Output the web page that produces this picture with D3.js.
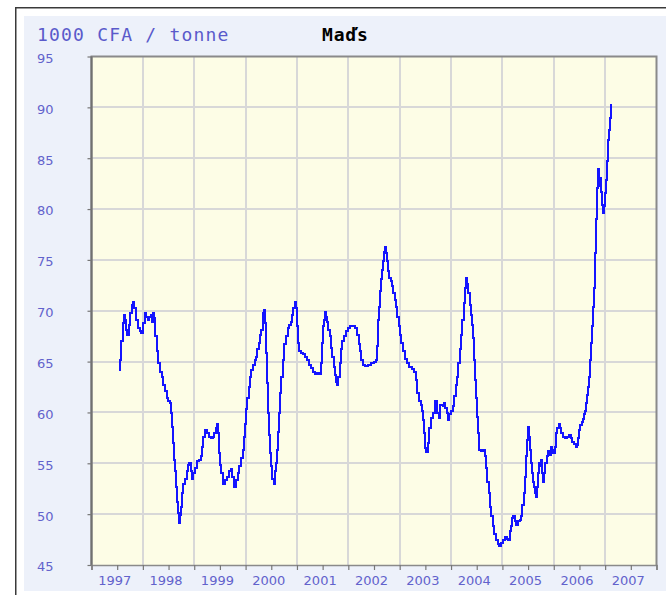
<!DOCTYPE html>
<html><head><meta charset="utf-8">
<script src="https://cdn.jsdelivr.net/npm/d3@7"></script>
<style>body{margin:0;background:#fff;} svg{display:block;}</style>
</head><body><svg id="c" width="666" height="595"></svg>
<script>
const unitTitle = "1000 CFA / tonne";
const seriesName = "Maďs";
const yTicks = [45, 50, 55, 60, 65, 70, 75, 80, 85, 90, 95];
const yearLabels = ["1997","1998","1999","2000","2001","2002","2003","2004","2005","2006","2007"];

// decimal years
const years = [
1997.545,1997.558,1997.584,1997.611,1997.623,1997.650,1997.675,1997.695,1997.728,1997.753,1997.792,1997.811,1997.837,1997.870,1997.909,1997.947,1997.967,
1998.006,1998.039,1998.064,1998.103,1998.128,1998.156,1998.181,1998.200,1998.220,1998.245,1998.278,1998.298,1998.337,1998.375,1998.401,1998.434,1998.467,1998.492,1998.531,1998.551,1998.570,1998.589,1998.609,1998.628,1998.648,1998.667,1998.687,1998.706,1998.726,1998.745,1998.765,1998.790,1998.823,1998.856,1998.881,1998.907,1998.934,1998.959,1998.984,
1999.018,1999.051,1999.089,1999.128,1999.154,1999.173,1999.206,1999.245,1999.284,1999.323,1999.362,1999.387,1999.426,1999.446,1999.465,1999.484,1999.504,1999.529,1999.556,1999.595,1999.634,1999.679,1999.712,1999.737,1999.776,1999.809,1999.848,1999.879,1999.912,1999.946,1999.971,1999.990,
2000.010,2000.035,2000.062,2000.088,2000.113,2000.146,2000.179,2000.204,2000.230,2000.257,2000.282,2000.307,2000.335,2000.346,2000.360,2000.379,2000.399,2000.418,2000.438,2000.457,2000.477,2000.496,2000.516,2000.545,2000.568,2000.593,2000.613,2000.632,2000.652,2000.671,2000.691,2000.724,2000.755,2000.788,2000.827,2000.852,2000.879,2000.905,2000.930,2000.957,2000.982,
2001.002,2001.021,2001.041,2001.080,2001.119,2001.158,2001.196,2001.235,2001.274,2001.313,2001.352,2001.391,2001.436,2001.463,2001.488,2001.508,2001.527,2001.547,2001.566,2001.585,2001.611,2001.638,2001.663,2001.689,2001.716,2001.741,2001.767,2001.786,2001.805,2001.833,2001.858,2001.883,2001.916,2001.955,2001.994,
2002.033,2002.086,2002.130,2002.169,2002.202,2002.228,2002.253,2002.280,2002.325,2002.383,2002.442,2002.500,2002.539,2002.558,2002.578,2002.597,2002.617,2002.636,2002.656,2002.675,2002.695,2002.714,2002.734,2002.753,2002.772,2002.798,2002.825,2002.850,2002.875,2002.903,2002.928,2002.953,2002.981,
2003.006,2003.031,2003.058,2003.097,2003.136,2003.181,2003.233,2003.278,2003.317,2003.342,2003.375,2003.414,2003.440,2003.459,2003.482,2003.502,2003.521,2003.551,2003.580,2003.609,2003.654,2003.687,2003.724,2003.763,2003.790,2003.837,2003.862,2003.881,2003.914,2003.940,2003.965,2003.998,
2004.031,2004.056,2004.089,2004.115,2004.140,2004.167,2004.193,2004.218,2004.245,2004.270,2004.290,2004.309,2004.335,2004.362,2004.387,2004.412,2004.432,2004.451,2004.471,2004.490,2004.510,2004.529,2004.549,2004.582,2004.621,2004.654,2004.679,2004.704,2004.732,2004.757,2004.782,2004.809,2004.835,2004.868,2004.907,2004.938,2004.971,
2005.004,2005.043,2005.082,2005.113,2005.140,2005.165,2005.191,2005.210,2005.237,2005.268,2005.302,2005.340,2005.360,2005.385,2005.412,2005.438,2005.457,2005.477,2005.496,2005.516,2005.535,2005.555,2005.574,2005.593,2005.613,2005.632,2005.652,2005.671,2005.691,2005.716,2005.735,2005.755,2005.774,2005.794,2005.813,2005.833,2005.860,2005.885,2005.911,2005.938,2005.963,2005.988,
2006.016,2006.041,2006.066,2006.093,2006.119,2006.144,2006.177,2006.216,2006.255,2006.294,2006.327,2006.358,2006.391,2006.424,2006.449,2006.469,2006.488,2006.514,2006.541,2006.566,2006.591,2006.611,2006.630,2006.650,2006.669,2006.689,2006.708,2006.728,2006.747,2006.767,2006.781,2006.800,2006.819,2006.844,2006.864,2006.877,2006.897,2006.916,2006.936,2006.955,2006.975,2006.994,
2007.014,2007.033,2007.053,2007.072,2007.092,2007.111
];

const prices = [
64.2,65.2,67.0,68.8,69.6,69.1,68.1,67.6,68.6,69.8,70.6,70.9,70.3,69.1,68.3,68.0,67.8,
68.8,69.8,69.4,69.1,69.4,69.6,68.9,69.8,69.3,67.5,66.0,64.9,64.0,63.5,62.7,62.1,61.4,61.1,60.9,59.9,58.6,57.0,55.3,54.2,52.7,51.2,50.1,49.1,49.9,50.7,52.1,53.0,53.5,54.2,54.8,55.0,54.2,53.5,54.0,
54.5,55.2,55.3,55.7,56.6,57.6,58.3,58.0,57.6,57.5,57.6,58.0,58.5,58.9,58.0,56.0,54.8,54.0,53.0,53.4,53.7,54.2,54.4,53.7,52.7,53.4,54.0,54.7,55.5,56.3,57.6,58.9,
60.3,61.4,62.5,63.5,64.2,64.7,65.2,65.5,66.2,66.8,67.6,68.1,68.9,69.8,70.1,68.8,65.8,62.9,59.9,57.8,56.0,54.7,53.5,53.0,54.2,55.0,56.3,58.1,59.9,61.9,63.5,65.2,66.7,67.5,68.3,68.6,68.9,69.6,70.3,70.9,70.3,
68.5,66.8,66.0,65.8,65.7,65.5,65.2,64.7,64.4,64.0,63.8,63.9,63.8,64.9,66.8,68.5,69.1,69.9,69.4,68.9,68.1,67.5,66.3,65.5,64.5,63.7,63.0,62.7,63.5,64.9,66.2,67.0,67.5,68.0,68.3,
68.5,68.5,68.3,67.6,66.7,66.0,65.2,64.7,64.6,64.7,64.9,65.0,65.2,66.5,69.1,70.4,71.9,73.1,74.0,74.9,75.8,76.3,75.7,74.9,73.9,73.2,72.9,72.4,71.7,71.1,70.4,69.4,68.5,
67.6,66.8,66.0,65.3,64.9,64.5,64.3,64.0,63.2,61.9,61.1,60.7,60.1,59.3,58.0,56.5,56.1,57.0,58.5,59.5,59.9,61.1,59.9,59.5,60.7,60.6,60.9,60.4,59.9,59.3,59.8,60.1,
60.6,61.6,62.7,63.5,64.9,66.2,67.6,69.1,70.8,72.2,73.2,72.6,71.7,70.6,69.6,68.6,67.3,65.2,63.2,61.4,59.6,58.0,56.3,56.2,56.3,55.7,54.5,53.2,52.1,50.7,49.8,48.8,48.0,47.5,47.1,46.9,47.2,
47.5,47.8,47.6,47.5,48.3,48.8,49.6,49.8,49.3,48.9,49.3,49.4,49.8,50.9,52.1,53.7,55.7,57.3,58.6,57.6,56.3,55.0,54.0,53.2,52.7,52.1,51.7,52.7,54.0,55.0,54.7,55.3,54.0,53.2,54.0,55.0,55.7,56.2,55.8,56.6,56.3,56.0,
56.6,58.0,58.5,58.9,58.5,58.0,57.6,57.5,57.6,57.8,57.5,57.1,56.9,56.6,56.8,57.5,58.3,58.8,59.1,59.4,59.8,60.1,60.9,61.7,62.5,63.5,65.2,66.8,68.5,70.4,72.2,75.7,79.0,82.1,83.9,82.3,83.1,81.7,80.4,79.6,80.3,81.6,
82.9,84.7,86.8,87.8,89.0,90.3
];

const svg = d3.select("#c");
const blueText = "#6262cc";

// outer frame and panel
svg.append("rect").attr("x", 24).attr("y", 16).attr("width", 642).attr("height", 575).attr("fill", "#edf1fa");
svg.append("path").attr("d", "M15.75,595V7.75H666").attr("fill", "none").attr("stroke", "#3a3a3a").attr("stroke-width", 1.5);

const pLeft = 91.5, pRight = 656.5, pTop = 56.5, pBottom = 565;
const xScale = d3.scaleLinear().domain([1997, 2008]).range([pLeft, pRight]);
const yScale = d3.scaleLinear().domain([45, 95]).range([pBottom, pTop]);

svg.append("rect").attr("x", pLeft).attr("y", pTop).attr("width", pRight - pLeft).attr("height", pBottom - pTop).attr("fill", "#fdfde6");

// grid
const gridColor = "#d8d8d8";
const yearStarts = d3.range(1998, 2008);
const gridG = svg.append("g").attr("class", "grid");
gridG.selectAll("line.vx").data(yearStarts).enter().append("line").attr("class", "vx")
  .attr("x1", d => Math.round(xScale(d))).attr("x2", d => Math.round(xScale(d)))
  .attr("y1", pTop).attr("y2", pBottom)
  .attr("stroke", gridColor).attr("stroke-width", 2);
gridG.selectAll("line.hy").data(yTicks.slice(1, -1)).enter().append("line").attr("class", "hy")
  .attr("y1", d => Math.round(yScale(d))).attr("y2", d => Math.round(yScale(d)))
  .attr("x1", pLeft).attr("x2", pRight)
  .attr("stroke", gridColor).attr("stroke-width", 2);

// series line
const data = years.map((t, i) => ({t, v: prices[i]}));
svg.append("path").datum(data)
  .attr("fill", "none").attr("stroke", "#1414ff").attr("stroke-width", 2)
  .style("shape-rendering", "crispEdges")
  .attr("d", d3.line().x(d => xScale(d.t)).y(d => yScale(d.v)).curve(d3.curveStepAfter));

// plot border
svg.append("path").attr("d", `M${pLeft},${pBottom}V${pTop}H${pRight}V${pBottom}`)
  .attr("fill", "none").attr("stroke", "#8a8a8a").attr("stroke-width", 2);
svg.append("line").attr("x1", pLeft).attr("x2", pLeft).attr("y1", pTop).attr("y2", pBottom).attr("stroke", "#707070").attr("stroke-width", 2);

// x axis: ticks every half year
const xAxisG = svg.append("g").attr("transform", `translate(0,${pBottom})`)
  .call(d3.axisBottom(xScale).tickValues(d3.range(1997, 2008.01, 0.5)).tickSize(5).tickFormat(""));
xAxisG.select(".domain").attr("stroke", "#8a8a8a").attr("stroke-width", 1.5);
xAxisG.selectAll("line").attr("stroke", "#777").attr("stroke-width", 1.2);

// x labels at mid-year
const labelAxis = svg.append("g").attr("transform", `translate(-3,${pBottom})`)
  .call(d3.axisBottom(xScale).tickValues(yearLabels.map(s => +s + 0.5)).tickSize(0).tickPadding(11)
    .tickFormat((d, i) => yearLabels[i]));
labelAxis.select(".domain").remove();
labelAxis.selectAll("text").attr("fill", blueText).style("font-family", "DejaVu Sans, Verdana, sans-serif").style("font-size", "13px");

// y axis ticks
const yAxisG = svg.append("g").attr("transform", `translate(${pLeft},0)`)
  .call(d3.axisLeft(yScale).tickValues(yTicks).tickSize(4).tickFormat(""));
yAxisG.select(".domain").remove();
yAxisG.selectAll("line").attr("stroke", "#777").attr("stroke-width", 1.2);

// y labels left aligned
const yLab = svg.append("g").attr("transform", `translate(${pLeft},0)`)
  .call(d3.axisLeft(yScale).tickValues(yTicks).tickSize(0).tickFormat(d3.format("d")));
yLab.select(".domain").remove();
yLab.selectAll("text").attr("x", 37 - pLeft).attr("dy", "0.45em").attr("text-anchor", "start")
  .attr("fill", blueText).style("font-family", "DejaVu Sans, Verdana, sans-serif").style("font-size", "13px");

// titles
svg.append("text").attr("x", 37).attr("y", 41).text(unitTitle)
  .attr("fill", "#5a5acb").style("font-family", "DejaVu Sans Mono, monospace").style("font-size", "18px").style("letter-spacing", "1.2px");
svg.append("text").attr("x", 322).attr("y", 41).text(seriesName)
  .attr("fill", "#000").style("font-family", "DejaVu Sans Mono, monospace").style("font-size", "18px").style("font-weight", "bold").style("letter-spacing", "0.8px");
</script></body></html>
